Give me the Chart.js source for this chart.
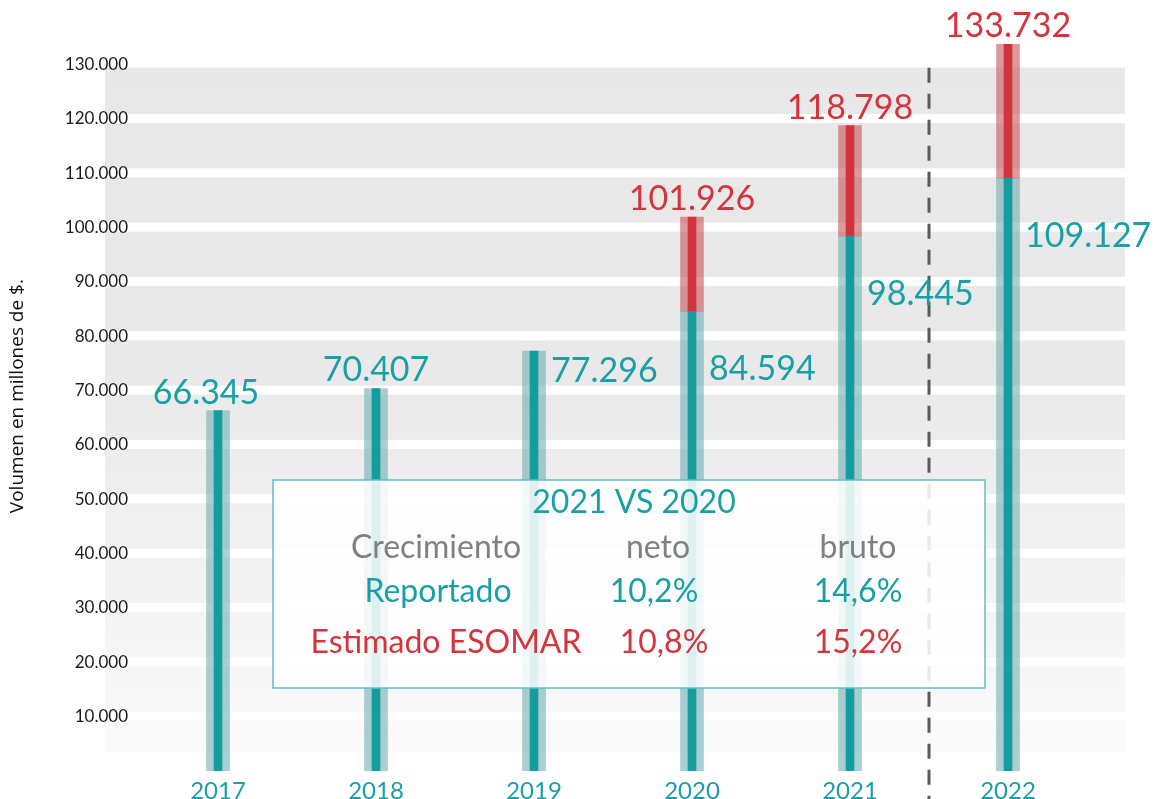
<!DOCTYPE html>
<html>
<head>
<meta charset="utf-8">
<script src="https://cdn.jsdelivr.net/npm/chart.js@4.4.1/dist/chart.umd.min.js"></script>
<style>
  html, body { margin: 0; padding: 0; background: #ffffff; }
  #wrap { width: 1161px; height: 799px; position: relative; }
</style>
</head>
<body>
<div id="wrap"><canvas id="c" width="1161" height="799"></canvas></div>
<script>
// ---- data ----
const years = ['2017', '2018', '2019', '2020', '2021', '2022'];
const reported = [66345, 70407, 77296, 84594, 98445, 109127];
const estimated = [null, null, null, 101926, 118798, 133732];
const yTickValues = [10000, 20000, 30000, 40000, 50000, 60000, 70000, 80000, 90000, 100000, 110000, 120000, 130000];
const yAxisTitle = 'Volumen en millones de $.';
const comparisonTitle = '2021 VS 2020';
const growthHeaders = ['Crecimiento', 'neto', 'bruto'];
const growthRows = ['Reportado', 'Estimado ESOMAR'];
const growthNet = ['10,2%', '10,8%'];
const growthGross = ['14,6%', '15,2%'];

// ---- styles ----
const TEAL = '#149c9e';
const TEAL_TEXT = '#1a9fa7';
const TEAL_LIGHT = 'rgba(108,172,178,0.58)';
const RED = '#d1343d';
const RED_TEXT = '#d3343e';
const RED_LIGHT = 'rgba(200,80,86,0.58)';
const FONT = 'Lato, "Open Sans", sans-serif';

const fmt = v => String(Math.round(v)).replace(/\B(?=(\d{3})+(?!\d))/g, '.');
const estimatedRange = estimated.map((e, i) => e == null ? null : [reported[i], e]);
const topTick = yTickValues[yTickValues.length - 1];

const backgroundPlugin = {
  id: 'bands',
  beforeDraw(chart) {
    const { ctx, chartArea, scales } = chart;
    const y = scales.y;
    const left = chartArea.left - 34, right = chartArea.right + 38;
    const top = y.getPixelForValue(topTick) + 3;
    const bottom = chartArea.bottom - 19;
    const g = ctx.createLinearGradient(0, top, 0, bottom);
    g.addColorStop(0, '#e8e8e8');
    g.addColorStop(0.45, '#e9e9e9');
    g.addColorStop(0.7, '#f1f1f1');
    g.addColorStop(1, '#fafafa');
    ctx.save();
    ctx.fillStyle = g;
    ctx.fillRect(left, top, right - left, bottom - top);
    ctx.fillStyle = '#ffffff';
    y.ticks.forEach(t => {
      if (t.value >= topTick) return;
      const py = y.getPixelForValue(t.value);
      ctx.fillRect(left, py - 5, right - left, 9);
    });
    ctx.restore();
  },
  beforeDatasetsDraw(chart) {
    const { ctx, scales } = chart;
    const x = scales.x;
    const px = (x.getPixelForValue(4) + x.getPixelForValue(5)) / 2;
    ctx.save();
    ctx.strokeStyle = '#5a5a5a';
    ctx.lineWidth = 3;
    ctx.setLineDash([15, 11]);
    ctx.beginPath();
    ctx.moveTo(px, scales.y.getPixelForValue(topTick) + 3);
    ctx.lineTo(px, chart.height);
    ctx.stroke();
    ctx.restore();
  },
  afterDatasetsDraw(chart) {
    const { ctx, scales } = chart;
    const x = scales.x, y = scales.y;
    ctx.save();
    // comparison box
    const bx = 273, by = 480, bw = 712, bh = 208;
    ctx.fillStyle = 'rgba(255,255,255,0.86)';
    ctx.fillRect(bx, by, bw, bh);
    ctx.strokeStyle = '#5cc0c6';
    ctx.lineWidth = 1.5;
    ctx.strokeRect(bx, by, bw, bh);
    ctx.textAlign = 'center';
    ctx.textBaseline = 'middle';
    ctx.font = '32px ' + FONT;
    ctx.fillStyle = TEAL_TEXT;
    ctx.fillText(comparisonTitle, 634, 503);
    const cols = [436, 658, 858];
    ctx.fillStyle = '#808080';
    growthHeaders.forEach((h, i) => ctx.fillText(h, cols[i], 548));
    const rowY = [592, 643];
    const rowColors = [TEAL_TEXT, RED_TEXT];
    growthRows.forEach((r, i) => {
      ctx.fillStyle = rowColors[i];
      ctx.fillText(r, cols[0] + (i === 1 ? 10 : 2), rowY[i]);
      ctx.fillText(growthNet[i], cols[1] + (i === 1 ? 6 : -4), rowY[i]);
      ctx.fillText(growthGross[i], cols[2], rowY[i]);
    });

    // value labels
    ctx.font = '34px ' + FONT;
    reported.forEach((v, i) => {
      const cx = x.getPixelForValue(i);
      const top = y.getPixelForValue(v);
      ctx.fillStyle = TEAL_TEXT;
      if (i < 2) {
        ctx.textAlign = 'center';
        ctx.textBaseline = 'alphabetic';
        ctx.fillText(fmt(v), cx - (i === 0 ? 12 : 0), top - 7);
      } else {
        ctx.textAlign = 'left';
        ctx.textBaseline = 'middle';
        ctx.fillText(fmt(v), cx + 17, top + (estimated[i] == null ? 20 : 58));
      }
      if (estimated[i] != null) {
        const et = y.getPixelForValue(estimated[i]);
        ctx.fillStyle = RED_TEXT;
        ctx.textAlign = 'center';
        ctx.textBaseline = 'alphabetic';
        ctx.fillText(fmt(estimated[i]), cx, et - 7);
      }
    });
    ctx.restore();
  }
};

new Chart(document.getElementById('c'), {
  type: 'bar',
  data: {
    labels: years,
    datasets: [
      { label: 'Reportado', data: reported, backgroundColor: TEAL, barThickness: 8, grouped: false },
      { label: 'Estimado ESOMAR', data: estimatedRange, backgroundColor: RED, barThickness: 8, grouped: false },
      { label: 'Reportado (banda)', data: reported, backgroundColor: TEAL_LIGHT, barThickness: 23, grouped: false },
      { label: 'Estimado (banda)', data: estimatedRange, backgroundColor: RED_LIGHT, barThickness: 23, grouped: false }
    ]
  },
  options: {
    responsive: false,
    animation: false,
    events: [],
    layout: { padding: { top: 10, right: 74, left: 0, bottom: 0 } },
    plugins: { legend: { display: false }, tooltip: { enabled: false } },
    scales: {
      x: {
        grid: { display: false, drawTicks: false },
        border: { display: false },
        ticks: { color: TEAL_TEXT, font: { family: FONT, size: 24 }, padding: 6 },
        afterFit(s) { s.height = 28; }
      },
      y: {
        min: 0,
        max: 138000,
        grid: { display: false, drawTicks: false },
        border: { display: false },
        afterBuildTicks(s) { s.ticks = yTickValues.map(v => ({ value: v })); },
        ticks: {
          padding: 11,
          color: '#1a1a1a',
          font: { family: FONT, size: 17 },
          callback: v => fmt(v)
        },
        title: { display: true, text: yAxisTitle, color: '#111', font: { family: '"Open Sans", sans-serif', size: 19 }, padding: { top: 6, bottom: 0 } },
        afterFit(s) { s.width = 139; }
      }
    }
  },
  plugins: [backgroundPlugin]
});
</script>
</body>
</html>
